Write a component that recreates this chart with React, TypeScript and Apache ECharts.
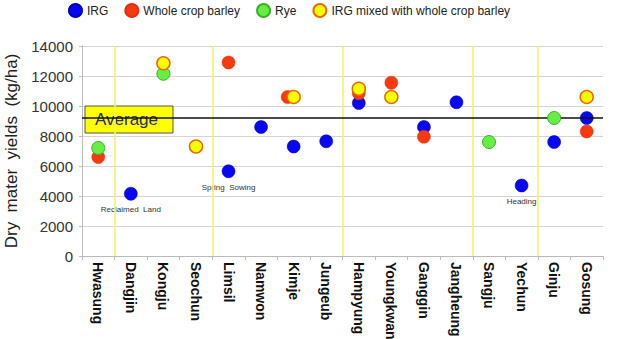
import React, { useEffect, useRef } from "react";
import * as echarts from "echarts";

// Sites along the x axis
const categories = [
  "Hwasung", "Dangjin", "Kongju", "Seochun", "Limsil", "Namwon", "Kimje", "Jungeub",
  "Hampyung", "Youngkwang", "Ganggin", "Jangheung", "Sangju", "Yechun", "Ginju", "Gosung",
];

// Dry matter yields (kg/ha) per crop; null = not grown at that site
const irg = [null, 4150, null, null, 5650, 8600, 7300, 7650, 10200, null, 8600, 10250, null, 4700, 7600, 9200];
const wholeCropBarley = [6600, null, null, null, 12900, null, 10600, null, 10850, 11550, 7950, null, null, null, null, 8300];
const rye = [7200, null, 12150, null, null, null, null, null, null, null, null, null, 7600, null, 9200, null];
const irgMixed = [null, null, 12850, 7300, null, null, 10600, null, 11150, 10600, null, null, null, null, null, 10600];

const average = 9200;

// Region separators, in category-slot units (0..16)
const regionBreaks = [1, 4, 8, 12, 14];

// Notes written under particular IRG points
const irgNotes: Record<string, string> = {
  Dangjin: "Reclaimed\u00a0\u00a0Land",
  Limsil: "Spring\u00a0\u00a0Sowing",
  Yechun: "Heading",
};

const yTicks = { min: 0, max: 14000, interval: 2000 };

export default function App() {
  const ref = useRef<HTMLDivElement>(null);

  useEffect(() => {
    document.body.style.margin = "0";
    const chart = echarts.init(ref.current!, null, { renderer: "svg" });

    const irgData = irg.map((v, i) => {
      const note = irgNotes[categories[i]];
      if (v == null) return { value: null };
      return note
        ? {
            value: v,
            label: {
              show: true,
              position: "bottom",
              distance: 5,
              formatter: note,
              fontSize: 8,
              color: "#333",
              fontFamily: "Liberation Sans",
            },
          }
        : { value: v };
    });

    const barleyData = wholeCropBarley.map((v, i) =>
      categories[i] === "Kimje" ? { value: v, symbolOffset: [-6, 0] } : { value: v }
    );

    const font = "Liberation Sans";

    chart.setOption({
      animation: false,
      backgroundColor: "#fff",
      textStyle: { fontFamily: font },
      legend: {
        top: 0,
        left: 63,
        padding: [3, 5],
        itemWidth: 13,
        itemHeight: 13,
        itemGap: 16,
        icon: "circle",
        textStyle: { fontSize: 12, color: "#222", fontFamily: font },
        data: ["IRG", "Whole crop barley", "Rye", "IRG mixed with whole crop barley"],
      },
      grid: {
        left: 82,
        right: 26,
        top: 46,
        bottom: 83,
        containLabel: false,
        outerBoundsMode: "none",
      },
      xAxis: [
        {
          type: "category",
          data: categories,
          boundaryGap: true,
          axisLine: { lineStyle: { color: "#bbb" } },
          axisTick: { show: true, length: 4, lineStyle: { color: "#bbb" } },
          axisLabel: {
            rotate: -90,
            interval: 0,
            margin: 6,
            fontSize: 14,
            fontWeight: "bold",
            color: "#111",
            fontFamily: font,
          },
        },
        { type: "value", min: 0, max: 16, show: false },
      ],
      yAxis: {
        type: "value",
        ...yTicks,
        name: "Dry\u00a0\u00a0mater\u00a0\u00a0yields\u00a0\u00a0(kg/ha)",
        nameLocation: "middle",
        nameGap: 62,
        nameTextStyle: { fontSize: 17, color: "#222", fontFamily: font },
        axisLine: { show: true, lineStyle: { color: "#bbb" } },
        axisTick: { show: true, length: 3, lineStyle: { color: "#bbb" } },
        axisLabel: {
          fontSize: 15,
          color: "#333",
          margin: 9,
          fontFamily: font,
          formatter: (v: number) => String(v),
        },
        splitLine: { lineStyle: { color: "#d4d4d4", width: 1 } },
      },
      series: [
        {
          name: "dividers",
          type: "line",
          xAxisIndex: 1,
          data: [],
          silent: true,
          markLine: {
            silent: true,
            symbol: "none",
            label: { show: false },
            lineStyle: { color: "#f7f26a", width: 1.6, type: "solid" },
            data: regionBreaks.map((x) => ({ xAxis: x })),
          },
        },
        {
          name: "average",
          type: "line",
          data: [],
          silent: true,
          markLine: {
            silent: true,
            symbol: "none",
            label: { show: false },
            lineStyle: { color: "#111", width: 1.5, type: "solid" },
            data: [{ yAxis: average }],
          },
        },
        {
          name: "IRG",
          type: "scatter",
          symbolSize: 13,
          itemStyle: { color: "#0808f0", borderColor: "#0000c0", borderWidth: 0.5, opacity: 1 },
          data: irgData,
          z: 3,
        },
        {
          name: "Whole crop barley",
          type: "scatter",
          symbolSize: 13,
          itemStyle: { color: "#f53a12", borderColor: "#e03010", borderWidth: 0.5, opacity: 1 },
          data: barleyData,
          z: 4,
        },
        {
          name: "Rye",
          type: "scatter",
          symbolSize: 13,
          itemStyle: { color: "#66ee44", borderColor: "#3fae2a", borderWidth: 1, opacity: 1 },
          data: rye,
          z: 5,
        },
        {
          name: "IRG mixed with whole crop barley",
          type: "scatter",
          symbolSize: 13,
          itemStyle: { color: "#ffff00", borderColor: "#e86a00", borderWidth: 1.5, opacity: 1 },
          data: irgMixed,
          z: 6,
        },
      ],
    });

    // "Average" tag sitting on the left end of the average line
    const yAvg = chart.convertToPixel({ yAxisIndex: 0 }, average) as number;
    chart.setOption({
      graphic: [
        {
          type: "group",
          z: 10,
          children: [
            {
              type: "rect",
              shape: { x: 85, y: yAvg - 12, width: 88, height: 27 },
              style: { fill: "#ffff00", stroke: "#555", lineWidth: 1 },
            },
            {
              type: "text",
              x: 95,
              y: yAvg + 1.5,
              style: {
                text: "Average",
                fontSize: 17,
                fontFamily: font,
                fill: "#2a2a78",
                verticalAlign: "middle",
                textAlign: "left",
              },
            },
          ],
        },
      ],
    });

    return () => chart.dispose();
  }, []);

  return <div ref={ref} style={{ width: 629, height: 339 }} />;
}
